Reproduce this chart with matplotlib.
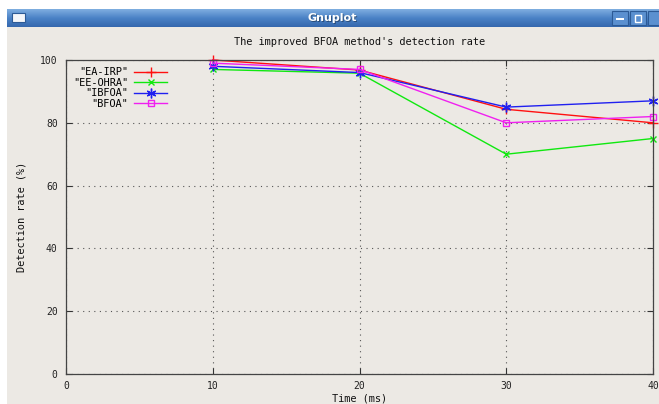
import numpy as np
import matplotlib
matplotlib.use("Agg")
import matplotlib.pyplot as plt
from matplotlib.patches import Rectangle
from matplotlib.colors import LinearSegmentedColormap

# ---- data ----
time_ms = [10, 20, 30, 40]
series_names = ['"EA-IRP"', '"EE-OHRA"', '"IBFOA"', '"BFOA"']
ea_irp = [100, 96.8, 84.3, 80]
ee_ohra = [97, 95.8, 70, 75]
ibfoa = [98, 96, 85, 87]
bfoa = [99, 97, 80, 82]
x_ticks = [0, 10, 20, 30, 40]
y_ticks = [0, 20, 40, 60, 80, 100]

W, H = 659, 404
fig = plt.figure(figsize=(W / 100, H / 100), dpi=100)
fig.patch.set_facecolor("white")

def fx(px):
    return px / W

def fy(py):
    return 1 - py / H

bg = "#ECE9E4"
# window body
fig.patches.append(Rectangle((fx(7), 0), 1 - fx(7), fy(27), transform=fig.transFigure,
                             facecolor=bg, edgecolor="none", zorder=-5))
# title bar gradient
tb = fig.add_axes([fx(7), fy(27), 1 - fx(7), fy(9) - fy(27)])
grad = np.linspace(0, 1, 50).reshape(-1, 1)
cm = LinearSegmentedColormap.from_list("tb", ["#7FAEE0", "#4A82C6", "#3568AE"])
tb.imshow(grad, aspect="auto", cmap=cm, extent=[0, 1, 0, 1], origin="upper")
tb.set_xlim(0, 1); tb.set_ylim(0, 1)
tb.axis("off")
tb.text(0.5, 0.47, "Gnuplot", color="black", alpha=0.35, ha="center", va="center",
        fontsize=8, fontweight="bold", family="DejaVu Sans",
        transform=tb.transAxes)
tb.text(0.499, 0.52, "Gnuplot", color="white", ha="center", va="center",
        fontsize=8, fontweight="bold", family="DejaVu Sans", transform=tb.transAxes)
# window icon and buttons
fig.patches.append(Rectangle((fx(12), fy(22)), fx(13), fy(13) - fy(22), transform=fig.transFigure,
                             facecolor="#F4F6FA", edgecolor="#2C5A96", lw=0.8, zorder=5))
for bx in [612, 630, 648]:
    fig.patches.append(Rectangle((fx(bx), fy(25)), fx(16), fy(11) - fy(25), transform=fig.transFigure,
                                 facecolor="#5B90D0", edgecolor="#2C5A96", lw=0.8, zorder=5))
fig.patches.append(Rectangle((fx(616), fy(20)), fx(8), fy(18) - fy(20), transform=fig.transFigure,
                             facecolor="white", edgecolor="none", zorder=6))
fig.patches.append(Rectangle((fx(635), fy(22)), fx(6), fy(15) - fy(22), transform=fig.transFigure,
                             facecolor="none", edgecolor="white", lw=1.0, zorder=6))

# ---- plot ----
mono = "DejaVu Sans Mono"
ax = fig.add_axes([fx(66), fy(374), fx(653) - fx(66), fy(60) - fy(374)])
ax.set_facecolor(bg)

styles = [
    (ea_irp, "#FF1010", "+", "none", 7),
    (ee_ohra, "#10E810", "x", "none", 5),
    (ibfoa, "#2020F0", (6, 2, 0), "none", 7),
    (bfoa, "#F020F0", "s", "none", 5),
]
for (vals, col, mk, mfc, ms), name in zip(styles, series_names):
    ax.plot(time_ms, vals, color=col, lw=1.0, marker=mk, markersize=ms,
            markerfacecolor=mfc, markeredgecolor=col, markeredgewidth=1.0,
            label=name, clip_on=False)

ax.set_xlim(0, 40)
ax.set_ylim(0, 100)
ax.set_xticks(x_ticks)
ax.set_yticks(y_ticks)
ax.tick_params(direction="in", length=4, width=0.8, color="#333333",
               top=True, right=True, labelsize=7, labelcolor="#222222", pad=6)
ax.tick_params(axis="x", pad=5)
for lab in ax.get_xticklabels() + ax.get_yticklabels():
    lab.set_family(mono)
ax.grid(True, linestyle=(0, (1, 4)), color="#555555", lw=0.8)
for sp in ax.spines.values():
    sp.set_color("#444444")
    sp.set_linewidth(0.9)

ax.set_title("The improved BFOA method's detection rate", family=mono, fontsize=7.4,
             color="#111111", pad=11)
ax.set_xlabel("Time (ms)", family=mono, fontsize=7.4, color="#111111", labelpad=2)
ax.set_ylabel("Detection rate (%)", family=mono, fontsize=7.4, color="#111111", labelpad=10)

leg = ax.legend(loc="upper left", bbox_to_anchor=(0.0, 1.0), markerfirst=False, frameon=False,
                prop={"family": mono, "size": 7.4}, handlelength=3.2, handletextpad=0.6,
                labelspacing=0.05, borderaxespad=0.3)

fig.savefig("out.png", dpi=100)
